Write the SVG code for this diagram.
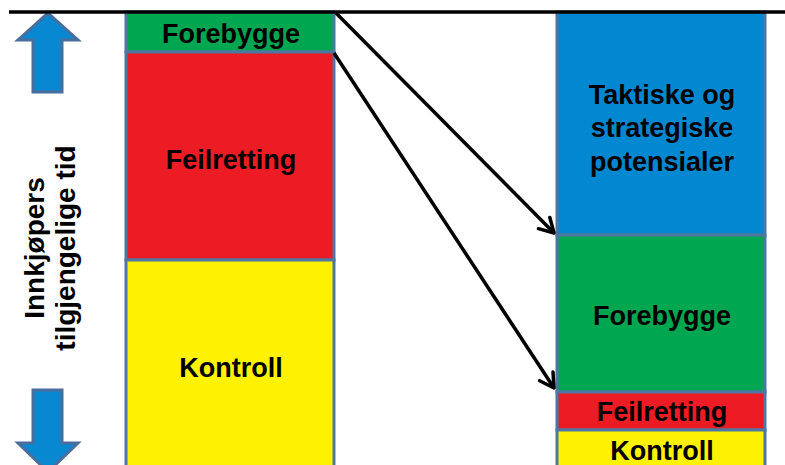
<svg xmlns="http://www.w3.org/2000/svg" width="785" height="465" viewBox="0 0 785 465">
<defs>
<marker id="chev" viewBox="-16 -10 18 20" refX="0" refY="0" markerWidth="18" markerHeight="20" markerUnits="userSpaceOnUse" orient="auto">
<path d="M-14,-8 L0,0 L-14,8" fill="none" stroke="#000" stroke-width="3.5" stroke-linecap="round" stroke-linejoin="round"/>
</marker>
<style>
.box{stroke:#4E76A3;stroke-width:3}
.t{font-family:"Liberation Sans",Arial,Helvetica,sans-serif;font-weight:bold;font-size:27px;fill:#000;text-anchor:middle}
.v{font-size:28px}
.arr{fill:#0788D0;stroke:#4A6E9C;stroke-width:3}
.con{stroke:#000;stroke-width:3.5;fill:none}
</style>
</defs>
<rect width="785" height="465" fill="#fff"/>
<g id="arrow-up"><path class="arr" d="M48,13 L78,40 L62,40 L62,92 L33,92 L33,40 L18,40 Z"/></g>
<g id="arrow-down"><path class="arr" d="M33,390 L62,390 L62,443 L78,443 L48,472 L18,443 L33,443 Z"/></g>
<g id="axis-label">
<text class="t v" transform="translate(44,248) rotate(-90)">Innkjøpers</text>
<text class="t v" transform="translate(75,248) rotate(-90)">tilgjengelige tid</text>
</g>
<g id="left-forebygge"><rect class="box" x="126" y="12" width="208" height="40" fill="#00A650"/><text class="t" x="231" y="43">Forebygge</text></g>
<g id="left-feilretting"><rect class="box" x="126" y="52" width="208" height="208" fill="#ED1C24"/><text class="t" x="231" y="169">Feilretting</text></g>
<g id="left-kontroll"><rect class="box" x="126" y="260" width="208" height="215" fill="#FFF200"/><text class="t" x="231" y="377">Kontroll</text></g>
<g id="right-potensialer"><rect class="box" x="557" y="12" width="208" height="223" fill="#0288D1"/><text class="t" x="662" y="104">Taktiske og</text><text class="t" x="662" y="137">strategiske</text><text class="t" x="662" y="171">potensialer</text></g>
<g id="right-forebygge"><rect class="box" x="557" y="235" width="208" height="157" fill="#00A650"/><text class="t" x="662" y="325">Forebygge</text></g>
<g id="right-feilretting"><rect class="box" x="557" y="392" width="208" height="38" fill="#ED1C24"/><text class="t" x="662" y="421">Feilretting</text></g>
<g id="right-kontroll"><rect class="box" x="557" y="430" width="208" height="45" fill="#FFF200"/><text class="t" x="662" y="460">Kontroll</text></g>
<g id="connectors">
<line x1="9" y1="12" x2="785" y2="12" stroke="#000" stroke-width="3.5"/>
<line class="con" x1="336" y1="13" x2="554" y2="233" marker-end="url(#chev)"/>
<line class="con" x1="334" y1="53" x2="554" y2="388" marker-end="url(#chev)"/>
</g>
</svg>
